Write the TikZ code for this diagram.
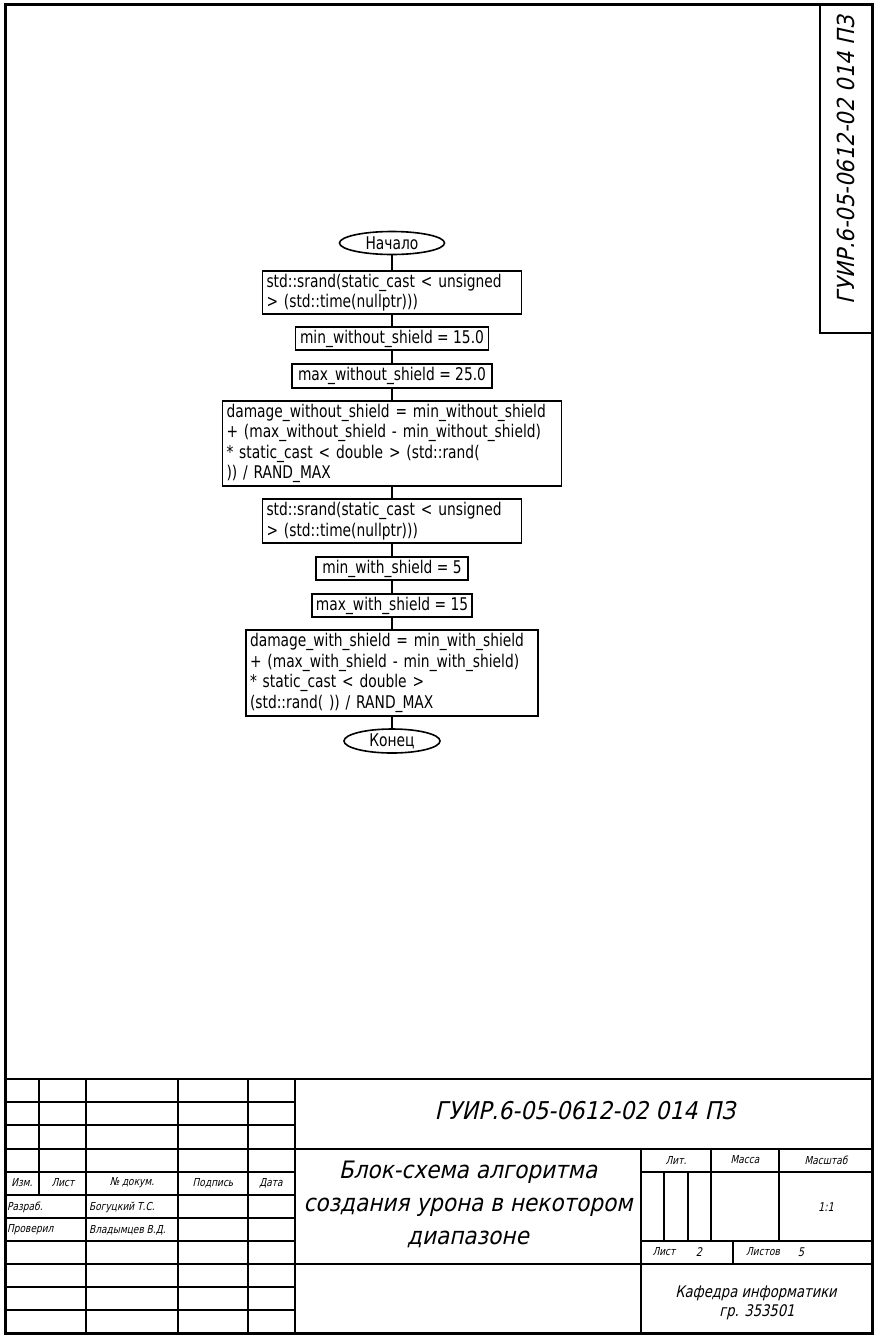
\documentclass[tikz,border=0pt]{standalone}
\usepackage{fontspec}
\usetikzlibrary{shapes.geometric}
\newfontfamily\flowfam[FakeStretch=0.79]{DejaVu Sans}
\newfontfamily\gostfam[FakeStretch=0.82,FakeSlant=0.22]{DejaVu Sans}
\newfontfamily\gostwide[FakeStretch=0.9,FakeSlant=0.22]{DejaVu Sans}
\newcommand\flowfont{\flowfam\fontsize{17.5}{20.5}\selectfont}
\newcommand\gsz[1]{\gostfam\fontsize{#1}{#1}\selectfont}
\newcommand\gwz[1]{\gostwide\fontsize{#1}{#1}\selectfont}
\begin{document}
\begin{tikzpicture}[x=1pt,y=-1pt,
  proc/.style={draw, line width=1.6pt, rectangle, inner xsep=4pt, inner ysep=0pt, font=\flowfont, align=left},
  term/.style={draw, line width=1.6pt, ellipse, inner sep=0pt, font=\flowfont},
  link/.style={line width=1.6pt},
  frm/.style={line width=3pt},
  grid/.style={line width=2pt},
  lbl/.style={inner sep=0pt}
]
\useasboundingbox (0,0) rectangle (875,1336);
% frame
\draw[frm] (5,4) rectangle (872,1333);
\draw[grid, line width=2.5pt] (820,4) -- (820,333) -- (872,333);
\node[lbl, rotate=90, font=\gwz{23.5}] (stampcode) at (846,160) {ГУИР.6-05-0612-02 014 ПЗ};

% flowchart
\node[term, minimum width=105pt, minimum height=23pt] (start) at (392,243) {Начало};
\node[proc, text width=251pt, minimum height=43pt] (b1) at (392,292.5)
  {\mbox{std::srand(static\_cast < unsigned}\\\mbox{> (std::time(nullptr)))}};
\node[proc, minimum width=193pt, minimum height=23pt] (b2) at (392,338.5) {min\_without\_shield = 15.0};
\node[proc, minimum width=200pt, minimum height=24pt] (b3) at (392,376) {max\_without\_shield = 25.0};
\node[proc, text width=331pt, minimum height=85pt] (b4) at (392,443.5)
  {\mbox{damage\_without\_shield = min\_without\_shield}\\\mbox{+ (max\_without\_shield - min\_without\_shield)}\\\mbox{* static\_cast < double > (std::rand(}\\\mbox{)) / RAND\_MAX}};
\node[proc, text width=251pt, minimum height=44pt] (b5) at (392,521)
  {\mbox{std::srand(static\_cast < unsigned}\\\mbox{> (std::time(nullptr)))}};
\node[proc, minimum width=152pt, minimum height=23pt] (b6) at (392,568.5) {min\_with\_shield = 5};
\node[proc, minimum width=160pt, minimum height=23pt] (b7) at (392,605.5) {max\_with\_shield = 15};
\node[proc, text width=284pt, minimum height=86pt] (b8) at (392,673)
  {\mbox{damage\_with\_shield = min\_with\_shield}\\\mbox{+ (max\_with\_shield - min\_with\_shield)}\\\mbox{* static\_cast < double >}\\\mbox{(std::rand( )) / RAND\_MAX}};
\node[term, minimum width=96pt, minimum height=24pt] (stop) at (392,741) {Конец};
\draw[link] (start) -- (b1);
\draw[link] (b1) -- (b2);
\draw[link] (b2) -- (b3);
\draw[link] (b3) -- (b4);
\draw[link] (b4) -- (b5);
\draw[link] (b5) -- (b6);
\draw[link] (b6) -- (b7);
\draw[link] (b7) -- (b8);
\draw[link] (b8) -- (stop);

% title block
\draw[grid, line width=2.6pt] (5,1079) -- (872,1079);
\foreach \yy in {1102,1125,1149,1172,1195,1218,1241,1264,1287,1310}
  \draw[grid] (5,\yy) -- (295,\yy);
\draw[grid] (39,1079) -- (39,1195);
\foreach \xx in {86,178,248}
  \draw[grid] (\xx,1079) -- (\xx,1333);
\draw[grid, line width=2.6pt] (295,1079) -- (295,1333);
\draw[grid, line width=2.6pt] (295,1149) -- (872,1149);
\draw[grid, line width=2.6pt] (295,1264) -- (872,1264);
\draw[grid, line width=2.6pt] (641,1149) -- (641,1333);
\draw[grid] (641,1172) -- (872,1172);
\draw[grid] (641,1241) -- (872,1241);
\draw[grid] (664,1172) -- (664,1241);
\draw[grid] (688,1172) -- (688,1241);
\draw[grid] (711,1149) -- (711,1241);
\draw[grid] (779,1149) -- (779,1241);
\draw[grid] (733,1241) -- (733,1264);

\node[lbl, font=\gwz{24.5}] (code) at (585,1111) {ГУИР.6-05-0612-02 014 ПЗ};
\node[lbl, font=\gwz{24}, align=center] (title) at (468,1204)
  {Блок-схема алгоритма\\[9pt]создания урона в некотором\\[9pt]диапазоне};

\node[lbl, font=\gsz{11}] (izm) at (22,1183) {Изм.};
\node[lbl, font=\gsz{11}] (list) at (63,1183) {Лист};
\node[lbl, font=\gsz{11}] (ndoc) at (132,1183) {№ докум.};
\node[lbl, font=\gsz{11}] (podp) at (213,1183) {Подпись};
\node[lbl, font=\gsz{11}] (data) at (271,1183) {Дата};
\node[lbl, font=\gsz{11}, anchor=west] (razr) at (7,1207) {Разраб.};
\node[lbl, font=\gsz{11}, anchor=west] (razrn) at (89,1207) {Богуцкий Т.С.};
\node[lbl, font=\gsz{11}, anchor=west] (prov) at (7,1230) {Проверил};
\node[lbl, font=\gsz{11}, anchor=west] (provn) at (89,1230) {Владымцев В.Д.};

\node[lbl, font=\gsz{11}] (lit) at (676,1160) {Лит.};
\node[lbl, font=\gsz{11}] (massa) at (745,1160) {Масса};
\node[lbl, font=\gsz{11}] (masht) at (826,1160) {Масштаб};
\node[lbl, font=\gsz{12}] (scale) at (826,1207) {1:1};
\node[lbl, font=\gsz{11}] (listl) at (664,1252) {Лист};
\node[lbl, font=\gsz{12}] (listn) at (699,1252) {2};
\node[lbl, font=\gsz{11}] (listovl) at (763,1252) {Листов};
\node[lbl, font=\gsz{12}] (listovn) at (801,1252) {5};
\node[lbl, font=\gsz{16}] (kaf) at (756,1293) {Кафедра информатики};
\node[lbl, font=\gsz{16}] (grp) at (757,1312) {гр. 353501};
\end{tikzpicture}
\end{document}
